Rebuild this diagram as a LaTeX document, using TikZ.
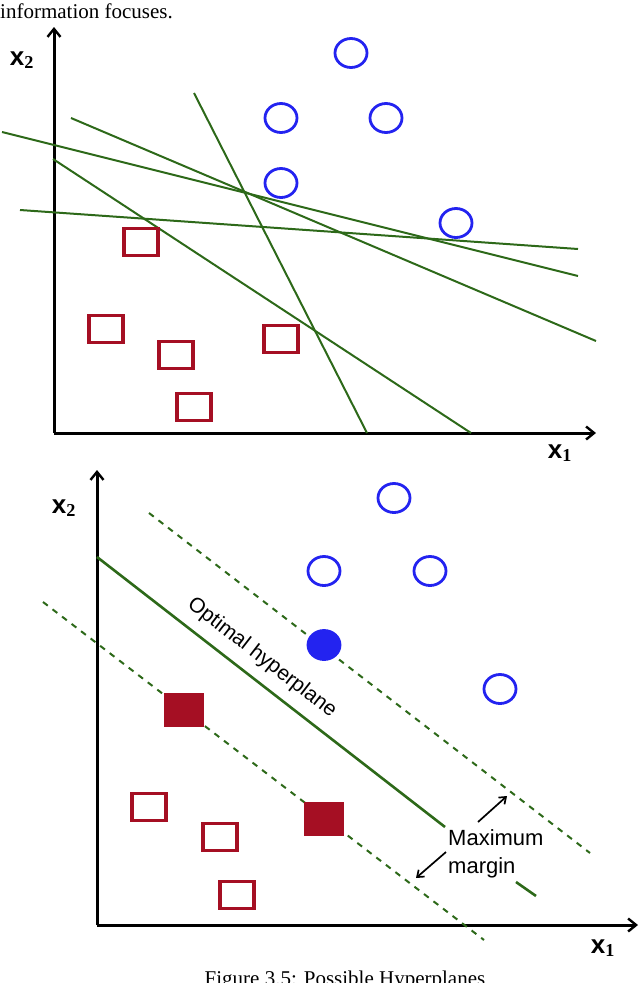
\documentclass[tikz,border=0pt]{standalone}
\usepackage{fontspec}
\setmainfont{Liberation Serif}
\newfontfamily\arial{Liberation Sans}
\usetikzlibrary{arrows.meta,shapes.geometric}
\definecolor{hgreen}{RGB}{45,105,25}
\definecolor{sqred}{RGB}{165,15,35}
\definecolor{cblue}{RGB}{35,35,240}
\begin{document}
\begin{tikzpicture}[x=1pt,y=-1pt,
  axis/.style={line width=3pt,-{Straight Barb[length=8pt,width=13pt,line width=2.4pt]}},
  hyp/.style={hgreen,line width=2pt},
  marg/.style={hgreen,line width=2pt,dash pattern=on 6pt off 6pt},
  circ/.style={draw=cblue,line width=2.8pt,ellipse,minimum width=32pt,minimum height=29pt,inner sep=0pt},
  fcirc/.style={circ,fill=cblue},
  sq/.style={draw=sqred,line width=3.2pt,rectangle,minimum width=34pt,minimum height=27pt,inner sep=0pt},
  fsq/.style={sq,fill=sqred,minimum width=36pt,minimum height=30pt},
  lab/.style={font=\arial\bfseries\fontsize{26}{28}\selectfont,inner sep=0pt},
  note/.style={font=\arial\fontsize{22}{24}\selectfont,inner sep=0pt,anchor=west},
  marr/.style={line width=1.7pt,-{Straight Barb[length=6pt,width=9pt]}}]
\useasboundingbox (0,0) rectangle (640,983);
\node[anchor=west,inner sep=0pt,font=\fontsize{21}{23}\selectfont] (top) at (0,11) {information focuses.};
% ---- top panel
\coordinate (o1) at (54,433);
\coordinate (y1) at (54,27);
\coordinate (x1e) at (596,433);
\draw[axis] (o1) -- (y1);
\draw[axis] (o1) -- (x1e);
\node[lab] (lx2a) at (22,60) {x$_{\mathbf 2}$};
\node[lab] (lx1a) at (560,453) {x$_{\mathbf 1}$};
\coordinate (la1) at (194,93);  \coordinate (lb1) at (367,433);
\coordinate (la2) at (71,118);  \coordinate (lb2) at (596,341);
\coordinate (la3) at (2,132);   \coordinate (lb3) at (578,276);
\coordinate (la4) at (53,159);  \coordinate (lb4) at (471,433);
\coordinate (la5) at (20,210);  \coordinate (lb5) at (578,249);
\foreach \i in {1,...,5} \draw[hyp] (la\i) -- (lb\i);
\node[circ] (c1) at (351,53) {};
\node[circ] (c2) at (281,118) {};
\node[circ] (c3) at (386,118) {};
\node[circ] (c4) at (281,183) {};
\node[circ] (c5) at (456,223) {};
\node[sq] (s1) at (141,242) {};
\node[sq] (s2) at (106,329) {};
\node[sq] (s3) at (176,355) {};
\node[sq] (s4) at (281,339) {};
\node[sq] (s5) at (194,407) {};
% ---- bottom panel
\coordinate (o2) at (97,925);
\coordinate (y2) at (97,470);
\coordinate (x2e) at (638,925);
\draw[axis] (o2) -- (y2);
\draw[axis] (o2) -- (x2e);
\node[lab] (lx2b) at (64,508) {x$_{\mathbf 2}$};
\node[lab] (lx1b) at (603,948) {x$_{\mathbf 1}$};
\coordinate (opA) at (97,557); \coordinate (opB) at (445,827);
\coordinate (opC) at (516,882); \coordinate (opD) at (536,896);
\draw[hyp,line width=2.6pt] (opA) -- (opB);
\draw[hyp,line width=2.6pt] (opC) -- (opD);
\coordinate (muA) at (149,513); \coordinate (muB) at (590,853);
\coordinate (mlA) at (43,602);  \coordinate (mlB) at (484,940);
\draw[marg] (muA) -- (muB);
\draw[marg] (mlA) -- (mlB);
\node[font=\arial\fontsize{21}{23}\selectfont,rotate=-37.8,inner sep=0pt] (opt) at (262,658) {Optimal hyperplane};
\node[circ] (d1) at (394,498) {};
\node[circ] (d2) at (324,571) {};
\node[circ] (d3) at (430,571) {};
\node[fcirc] (d4) at (324,645) {};
\node[circ] (d5) at (500,689) {};
\node[fsq] (t1) at (184,710) {};
\node[fsq] (t2) at (324,819) {};
\node[sq] (t3) at (149,807) {};
\node[sq] (t4) at (220,837) {};
\node[sq] (t5) at (237,895) {};
\node[note] (mx) at (448,838) {Maximum};
\node[note] (mg) at (448,868) {margin};
\coordinate (a1s) at (478,822); \coordinate (a1e) at (507,796);
\coordinate (a2s) at (446,852); \coordinate (a2e) at (416,878);
\draw[marr] (a1s) -- (a1e);
\draw[marr] (a2s) -- (a2e);
\node[inner sep=0pt,font=\fontsize{21}{23}\selectfont] (cap) at (345,980) {Figure 3.5: Possible Hyperplanes};
\end{tikzpicture}
\end{document}
